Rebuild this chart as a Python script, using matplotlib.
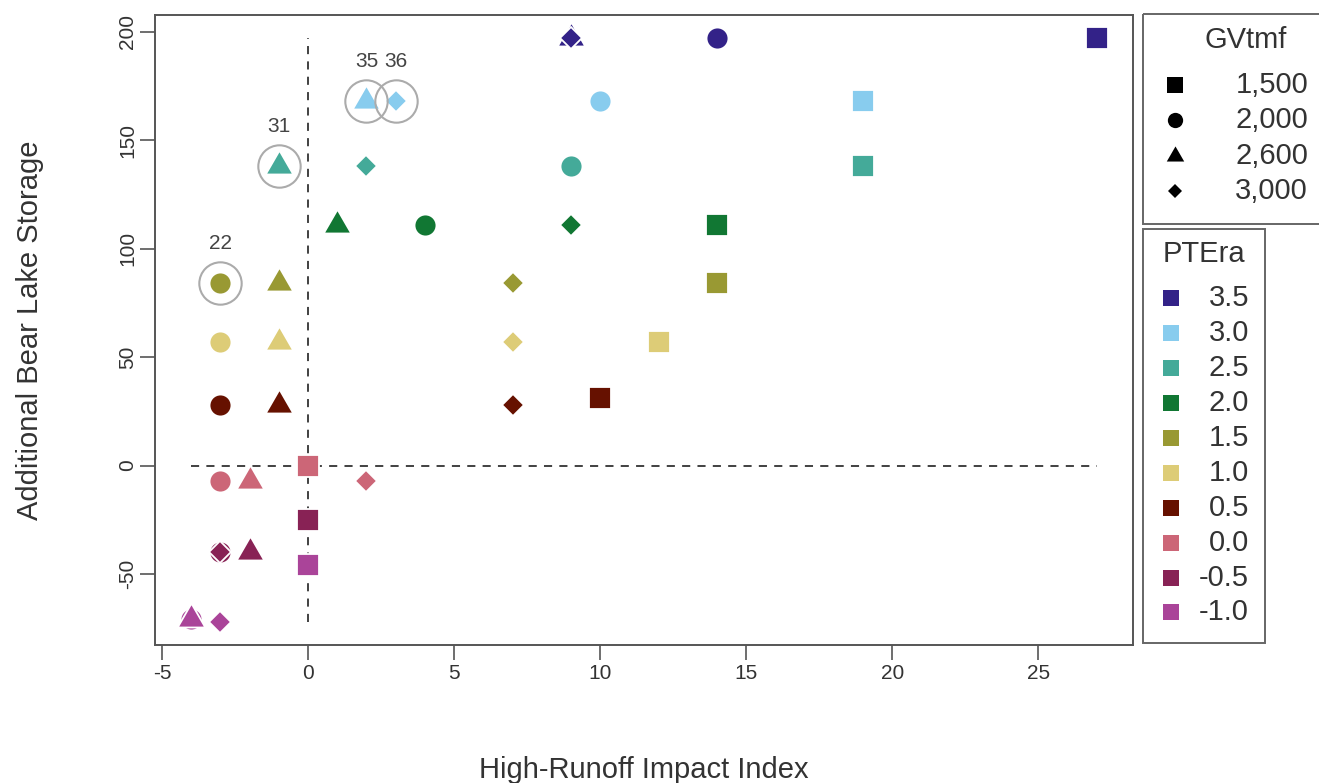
import matplotlib
matplotlib.use("Agg")
import matplotlib.pyplot as plt
from matplotlib.path import Path
from matplotlib.patches import Rectangle
import numpy as np

plt.rcParams['font.family'] = ['Liberation Sans', 'DejaVu Sans']
plt.rcParams['axes.unicode_minus'] = False

# ---------------- data ----------------
pte_levels = ['3.5', '3.0', '2.5', '2.0', '1.5', '1.0', '0.5', '0.0', '-0.5', '-1.0']
pte_colors = ['#332288', '#88CCEE', '#44AA99', '#117733', '#999933',
              '#DDCC77', '#661100', '#CC6677', '#882255', '#AA4499']
gv_labels = ['1,500', '2,000', '2,600', '3,000']

impact_1500 = [27, 19, 19, 14, 14, 12, 10, 0, 0, 0]
storage_1500 = [197, 168, 138, 111, 84, 57, 31, 0, -25, -46]
impact_2000 = [14, 10, 9, 4, -3, -3, -3, -3, -3, -4]
storage_2000 = [197, 168, 138, 111, 84, 57, 28, -7, -40, -71]
impact_2600 = [9, 2, -1, 1, -1, -1, -1, -2, -2, -4]
storage_2600 = [197, 168, 138, 111, 84, 57, 28, -7, -40, -71]
impact_3000 = [9, 3, 2, 9, 7, 7, 7, 2, -3, -3]
storage_3000 = [197, 168, 138, 111, 84, 57, 28, -7, -40, -72]

# highlighted runs: (label, GVtmf group index, PTEra index)
highlight_labels = ['22', '31', '35', '36']
highlight_group = [1, 2, 2, 3]
highlight_pte = [4, 2, 1, 1]

# ---------------- styles ----------------
# R-like triangle centred on its centroid
tri = Path([(0, 1.555), (-1.347, -0.778), (1.347, -0.778), (0, 1.555)],
           [Path.MOVETO, Path.LINETO, Path.LINETO, Path.CLOSEPOLY])
markers = ['s', 'o', tri, 'D']
msizes = [16.5, 15.8, 23.0, 11.0]
leg_msizes = [11.0, 11.0, 14.5, 7.5]

groups_x = [impact_1500, impact_2000, impact_2600, impact_3000]
groups_y = [storage_1500, storage_2000, storage_2600, storage_3000]

W, H = 1319, 783
fig = plt.figure(figsize=(W / 100, H / 100), dpi=100)
ax = fig.add_axes([155 / W, 1 - 645 / H, (1133 - 155) / W, (645 - 15) / H])

all_x = np.concatenate([np.array(g) for g in groups_x])
all_y = np.concatenate([np.array(g) for g in groups_y])
xr = all_x.max() - all_x.min()
yr = all_y.max() - all_y.min()
ax.set_xlim(all_x.min() - 0.04 * xr, all_x.max() + 0.04 * xr)
ax.set_ylim(all_y.min() - 0.04 * yr, all_y.max() + 0.04 * yr)

# reference dashed lines
dash_kw = dict(color='#333333', lw=1.3, linestyle=(0, (4.5, 4)), zorder=1)
ax.plot([0, 0], [all_y.min(), all_y.max()], **dash_kw)
ax.plot([all_x.min(), all_x.max()], [0, 0], **dash_kw)

# points
for gi in range(4):
    for pi in range(len(pte_levels)):
        ax.plot(groups_x[gi][pi], groups_y[gi][pi], linestyle='none',
                marker=markers[gi], ms=msizes[gi], mfc=pte_colors[pi],
                mec='white', mew=1.3, zorder=3 + gi)

# highlight rings + labels
for lab, gi, pi in zip(highlight_labels, highlight_group, highlight_pte):
    x = groups_x[gi][pi]
    y = groups_y[gi][pi]
    ax.plot(x, y, linestyle='none', marker='o', ms=30.5, mfc='none',
            mec='#ABABAB', mew=1.5, zorder=8)
    ax.annotate(lab, (x, y), xytext=(0, 28.5), textcoords='offset points',
                ha='center', va='center', fontsize=15, color='#444444')

# axes styling (R base look)
for sp in ax.spines.values():
    sp.set_color('#555555')
    sp.set_linewidth(1.4)
ax.set_xticks([-5, 0, 5, 10, 15, 20, 25])
ax.set_yticks([-50, 0, 50, 100, 150, 200])
ax.tick_params(axis='both', direction='out', length=11, width=1.2,
               color='#555555', labelsize=15, labelcolor='#333333')
ax.tick_params(axis='x', pad=3)
ax.tick_params(axis='y', labelrotation=90, pad=2)
for t in ax.get_yticklabels():
    t.set_va('center')
ax.set_xlabel('High-Runoff Impact Index', fontsize=21, color='#333333', va='center')
ax.set_ylabel('Additional Bear Lake Storage', fontsize=21, color='#333333', va='center')
ax.xaxis.set_label_coords(0.5, -(770 - 645) / 630)
ax.yaxis.set_label_coords((30 - 155) / 978, 0.5)

# ---------------- legends (pixel overlay) ----------------
lg = fig.add_axes([0, 0, 1, 1], zorder=10)
lg.set_xlim(0, W)
lg.set_ylim(H, 0)
lg.axis('off')
lg.patch.set_alpha(0)

box_kw = dict(fill=False, edgecolor='#666666', lw=1.4, clip_on=False)
lg.add_patch(Rectangle((1143, 14), 200, 210, **box_kw))
lg.add_patch(Rectangle((1143, 229), 122, 414, **box_kw))

lg.text(1246, 40, 'GVtmf', ha='center', va='center', fontsize=21, color='#333333')
gv_rows = [85, 120, 156, 191]
for gi, (lab, yy) in enumerate(zip(gv_labels, gv_rows)):
    lg.plot(1175, yy, linestyle='none', marker=markers[gi], ms=leg_msizes[gi],
            mfc='black', mec='black', mew=0)
    lg.text(1308, yy, lab, ha='right', va='center', fontsize=21, color='#333333')

lg.text(1204, 254, 'PTEra', ha='center', va='center', fontsize=21, color='#333333')
pte_rows = [298, 333, 368, 403, 438, 473, 508, 543, 578, 612]
for lab, col, yy in zip(pte_levels, pte_colors, pte_rows):
    lg.plot(1171, yy, linestyle='none', marker='s', ms=12, mfc=col, mec=col, mew=0)
    lg.text(1249, yy, lab, ha='right', va='center', fontsize=21, color='#333333')

fig.savefig('out.png', dpi=100)
